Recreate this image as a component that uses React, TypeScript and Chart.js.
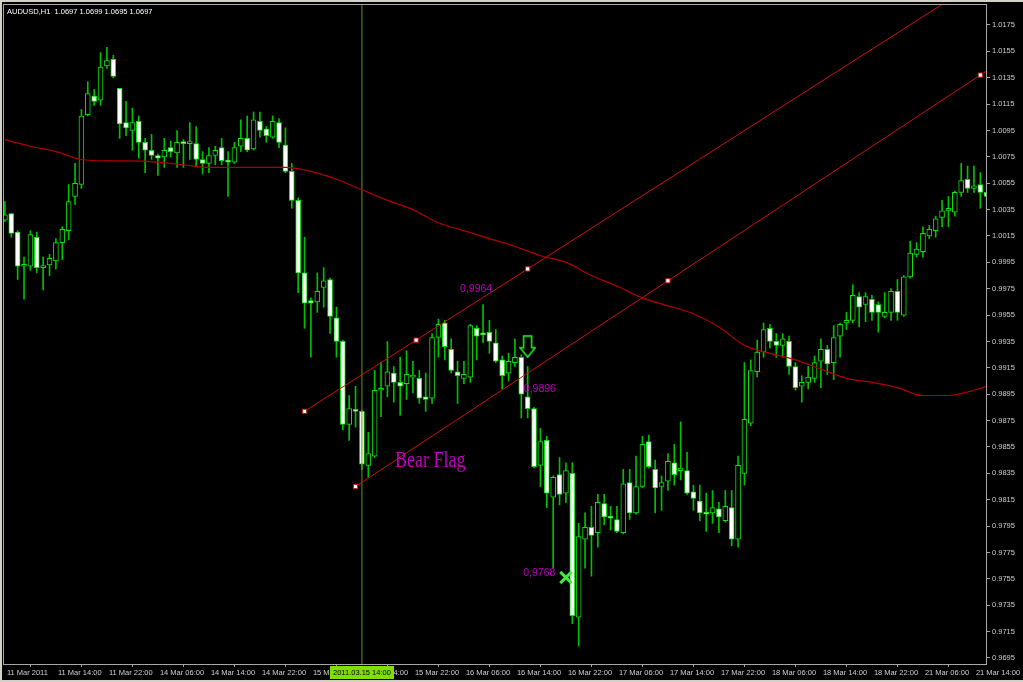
import React, { useEffect, useRef } from 'react';
import { Chart, registerables } from 'chart.js';

Chart.register(...registerables);

// ---------------- data ----------------
const TITLE_TEXT = 'AUDUSD,H1  1.0697 1.0699 1.0695 1.0697';

const X_LABELS = [
  '11 Mar 2011', '11 Mar 14:00', '11 Mar 22:00', '14 Mar 06:00', '14 Mar 14:00',
  '14 Mar 22:00', '15 Mar 06:00', '15 Mar 14:00', '15 Mar 22:00', '16 Mar 06:00',
  '16 Mar 14:00', '16 Mar 22:00', '17 Mar 06:00', '17 Mar 14:00', '17 Mar 22:00',
  '18 Mar 06:00', '18 Mar 14:00', '18 Mar 22:00', '21 Mar 06:00', '21 Mar 14:00',
];
const BARS_PER_LABEL = 8;

const Y_TICKS = [
  1.0175, 1.0155, 1.0135, 1.0115, 1.0095, 1.0075, 1.0055, 1.0035, 1.0015,
  0.9995, 0.9975, 0.9955, 0.9935, 0.9915, 0.9895, 0.9875, 0.9855, 0.9835,
  0.9815, 0.9795, 0.9775, 0.9755, 0.9735, 0.9715, 0.9695,
];
const Y_MIN = 0.96904;
const Y_MAX = 1.01909;
const X_MIN = -0.3;
const X_MAX = 154.05;

const OPEN = [
  1.0027, 1.0032, 1.0018, 0.9992, 0.9992, 1.0014, 0.9991, 0.9993, 0.9996, 1.0010,
  1.0019, 1.0045, 1.0054, 1.0107, 1.0121, 1.0118, 1.0144, 1.0149, 1.0127, 1.0101,
  1.0095, 1.0102, 1.0086, 1.0080, 1.0076, 1.0075, 1.0082, 1.0078, 1.0086, 1.0085,
  1.0085, 1.0073, 1.0070, 1.0076, 1.0082, 1.0072, 1.0071, 1.0083, 1.0089, 1.0081,
  1.0102, 1.0096, 1.0090, 1.0101, 1.0084, 1.0064, 1.0042, 0.9987, 0.9966, 0.9965,
  0.9976, 0.9982, 0.9953, 0.9935, 0.9872, 0.9883, 0.9882, 0.9841, 0.9848, 0.9898,
  0.9901, 0.9911, 0.9904, 0.9903, 0.9908, 0.9907, 0.9893, 0.9892, 0.9938, 0.9949,
  0.9929, 0.9912, 0.9907, 0.9908, 0.9945, 0.9941, 0.9942, 0.9934, 0.9921, 0.9911,
  0.9919, 0.9923, 0.9893, 0.9884, 0.9841, 0.9860, 0.9817, 0.9834, 0.9820, 0.9835,
  0.9726, 0.9785, 0.9794, 0.9790, 0.9812, 0.9802, 0.9800, 0.9790, 0.9828, 0.9805,
  0.9825, 0.9859, 0.9838, 0.9825, 0.9829, 0.9843, 0.9837, 0.9837, 0.9821, 0.9814,
  0.9805, 0.9805, 0.9808, 0.9799, 0.9809, 0.9785, 0.9835, 0.9873, 0.9912, 0.9927,
  0.9945, 0.9935, 0.9932, 0.9935, 0.9916, 0.9901, 0.9904, 0.9907, 0.9920, 0.9929,
  0.9919, 0.9939, 0.9949, 0.9951, 0.9969, 0.9963, 0.9967, 0.9963, 0.9954, 0.9957,
  0.9973, 0.9955, 0.9984, 1.0001, 1.0003, 1.0015, 1.0019, 1.0029, 1.0034, 1.0033,
  1.0048, 1.0058, 1.0051, 1.0054, 1.0048,
];
const HIGH = [
  1.0041, 1.0032, 1.0019, 0.9999, 1.0019, 1.0018, 0.9999, 1.0001, 1.0013, 1.0022,
  1.0054, 1.0070, 1.0111, 1.0132, 1.0126, 1.0154, 1.0158, 1.0152, 1.0127, 1.0117,
  1.0112, 1.0106, 1.0089, 1.0092, 1.0077, 1.0089, 1.0087, 1.0095, 1.0088, 1.0101,
  1.0098, 1.0079, 1.0082, 1.0083, 1.0089, 1.0079, 1.0086, 1.0103, 1.0106, 1.0109,
  1.0109, 1.0098, 1.0106, 1.0104, 1.0097, 1.0070, 1.0044, 1.0014, 0.9968, 0.9987,
  0.9991, 0.9983, 0.9961, 0.9936, 0.9894, 0.9901, 0.9883, 0.9866, 0.9913, 0.9919,
  0.9935, 0.9916, 0.9923, 0.9928, 0.9920, 0.9913, 0.9911, 0.9941, 0.9952, 0.9951,
  0.9937, 0.9920, 0.9920, 0.9948, 0.9947, 0.9963, 0.9951, 0.9944, 0.9924, 0.9926,
  0.9937, 0.9925, 0.9916, 0.9885, 0.9869, 0.9863, 0.9833, 0.9847, 0.9843, 0.9843,
  0.9797, 0.9805, 0.9810, 0.9819, 0.9819, 0.9810, 0.9810, 0.9838, 0.9838, 0.9848,
  0.9863, 0.9864, 0.9845, 0.9833, 0.9850, 0.9857, 0.9874, 0.9851, 0.9826, 0.9826,
  0.9820, 0.9822, 0.9813, 0.9822, 0.9822, 0.9848, 0.9919, 0.9921, 0.9936, 0.9949,
  0.9948, 0.9941, 0.9941, 0.9939, 0.9919, 0.9909, 0.9916, 0.9924, 0.9937, 0.9932,
  0.9947, 0.9949, 0.9957, 0.9978, 0.9972, 0.9972, 0.9970, 0.9965, 0.9972, 0.9975,
  0.9982, 0.9985, 1.0011, 1.0010, 1.0022, 1.0023, 1.0030, 1.0042, 1.0045, 1.0049,
  1.0070, 1.0068, 1.0068, 1.0063, 1.0058,
];
const LOW = [
  1.0026, 1.0014, 0.9982, 0.9967, 0.9989, 0.9987, 0.9974, 0.9985, 0.9990, 0.9997,
  1.0012, 1.0039, 1.0051, 1.0106, 1.0114, 1.0114, 1.0142, 1.0135, 1.0089, 1.0091,
  1.0080, 1.0074, 1.0063, 1.0073, 1.0061, 1.0067, 1.0075, 1.0067, 1.0067, 1.0073,
  1.0068, 1.0062, 1.0063, 1.0069, 1.0069, 1.0045, 1.0070, 1.0079, 1.0079, 1.0080,
  1.0090, 1.0086, 1.0089, 1.0082, 1.0063, 1.0036, 0.9972, 0.9945, 0.9923, 0.9957,
  0.9961, 0.9941, 0.9923, 0.9868, 0.9860, 0.9870, 0.9838, 0.9832, 0.9847, 0.9878,
  0.9893, 0.9889, 0.9879, 0.9891, 0.9896, 0.9888, 0.9882, 0.9888, 0.9923, 0.9921,
  0.9911, 0.9888, 0.9903, 0.9904, 0.9921, 0.9934, 0.9926, 0.9919, 0.9899, 0.9905,
  0.9916, 0.9877, 0.9877, 0.9839, 0.9825, 0.9809, 0.9763, 0.9811, 0.9813, 0.9721,
  0.9704, 0.9763, 0.9757, 0.9779, 0.9796, 0.9792, 0.9790, 0.9789, 0.9800, 0.9804,
  0.9824, 0.9839, 0.9805, 0.9807, 0.9822, 0.9826, 0.9830, 0.9819, 0.9807, 0.9799,
  0.9791, 0.9797, 0.9790, 0.9798, 0.9780, 0.9779, 0.9826, 0.9871, 0.9908, 0.9923,
  0.9930, 0.9923, 0.9923, 0.9910, 0.9898, 0.9889, 0.9899, 0.9904, 0.9900, 0.9910,
  0.9906, 0.9923, 0.9944, 0.9949, 0.9946, 0.9950, 0.9951, 0.9942, 0.9953, 0.9951,
  0.9951, 0.9954, 0.9983, 0.9999, 0.9999, 1.0013, 1.0014, 1.0022, 1.0022, 1.0030,
  1.0045, 1.0048, 1.0048, 1.0036, 1.0033,
];
const CLOSE = [
  1.0031, 1.0017, 0.9992, 0.9993, 1.0016, 0.9991, 0.9992, 0.9998, 1.0010, 1.0020,
  1.0041, 1.0055, 1.0106, 1.0123, 1.0117, 1.0143, 1.0148, 1.0136, 1.0100, 1.0097,
  1.0101, 1.0086, 1.0080, 1.0076, 1.0074, 1.0080, 1.0079, 1.0086, 1.0085, 1.0086,
  1.0073, 1.0070, 1.0076, 1.0080, 1.0072, 1.0071, 1.0082, 1.0089, 1.0080, 1.0103,
  1.0095, 1.0091, 1.0102, 1.0086, 1.0064, 1.0042, 0.9987, 0.9964, 0.9964, 0.9973,
  0.9981, 0.9954, 0.9935, 0.9872, 0.9884, 0.9882, 0.9842, 0.9850, 0.9898, 0.9899,
  0.9912, 0.9904, 0.9901, 0.9910, 0.9909, 0.9892, 0.9891, 0.9938, 0.9948, 0.9931,
  0.9913, 0.9909, 0.9910, 0.9947, 0.9939, 0.9940, 0.9935, 0.9920, 0.9909, 0.9920,
  0.9923, 0.9895, 0.9884, 0.9840, 0.9859, 0.9820, 0.9832, 0.9819, 0.9837, 0.9727,
  0.9787, 0.9794, 0.9788, 0.9813, 0.9802, 0.9801, 0.9791, 0.9827, 0.9805, 0.9825,
  0.9857, 0.9840, 0.9824, 0.9828, 0.9844, 0.9834, 0.9839, 0.9820, 0.9816, 0.9805,
  0.9804, 0.9809, 0.9802, 0.9810, 0.9785, 0.9841, 0.9876, 0.9913, 0.9927, 0.9944,
  0.9935, 0.9932, 0.9937, 0.9916, 0.9900, 0.9904, 0.9908, 0.9919, 0.9929, 0.9918,
  0.9938, 0.9948, 0.9951, 0.9970, 0.9961, 0.9969, 0.9957, 0.9957, 0.9957, 0.9973,
  0.9957, 0.9984, 1.0002, 1.0005, 1.0017, 1.0020, 1.0028, 1.0034, 1.0036, 1.0048,
  1.0057, 1.0051, 1.0053, 1.0048, 1.0045,
];

// moving average (read every 4 bars)
const MA_INDEX = [
  0, 4, 8, 12, 16, 20, 24, 28, 32, 36, 40, 44, 48, 52, 56, 60, 64, 68, 72, 76,
  80, 84, 88, 92, 96, 100, 104, 108, 112, 116, 120, 124, 128, 132, 136, 140, 144, 148, 152, 154,
];
const MA_VALUES = [
  1.0088, 1.0083, 1.0079, 1.0073, 1.0072, 1.0072, 1.0071, 1.0069, 1.0067, 1.0067,
  1.0067, 1.0067, 1.0064, 1.0058, 1.0050, 1.0042, 1.0035, 1.0025, 1.0019, 1.0013,
  1.0007, 1.0000, 0.9995, 0.9985, 0.9977, 0.9968, 0.9962, 0.9956, 0.9946, 0.9932,
  0.9926, 0.9921, 0.9914, 0.9907, 0.9904, 0.9900, 0.9894, 0.9894, 0.9898, 0.9901,
];

// trend lines (two anchors each, drawn as rays)
const UPPER_TREND_X = [47, 82];
const UPPER_TREND_Y = [0.9882, 0.999];
const LOWER_TREND_X = [55, 153];
const LOWER_TREND_Y = [0.9825, 1.0137];

const MARKER_LINE_INDEX = 56;
const MARKER_LINE_LABEL = '2011.03.15 14:00';

const ARROW_X = 82;
const ARROW_Y = 0.9931;
const CROSS_X = 88;
const CROSS_Y = 0.9756;

const NOTE_TEXTS = ['0,9964', '0,9896', '0,9768'];
const NOTE_X = [71.4, 81.4, 81.3];
const NOTE_Y = [0.9975, 0.9899, 0.9759];
const FLAG_TEXT = 'Bear Flag';
const FLAG_X = 61.2;
const FLAG_Y = 0.9844;

// ---------------- styles ----------------
const GREEN_BORDER = '#10e010';
const GREEN_WICK = '#00c000';
const MA_RED = '#b00000';
const TREND_RED = '#d01010';
const VLINE_COLOR = '#5f9800';
const AXIS_TEXT = '#d0d0d0';
const NOTE_COLOR = '#c000c0';
const FONT = 'Liberation Sans';

function makeArrow(): HTMLCanvasElement {
  const c = document.createElement('canvas');
  c.width = 17;
  c.height = 23;
  const g = c.getContext('2d')!;
  g.strokeStyle = '#20f020';
  g.lineWidth = 1.6;
  g.beginPath();
  g.moveTo(4.5, 1);
  g.lineTo(12.5, 1);
  g.lineTo(12.5, 12.5);
  g.lineTo(16, 12.5);
  g.lineTo(8.5, 22);
  g.lineTo(1, 12.5);
  g.lineTo(4.5, 12.5);
  g.closePath();
  g.stroke();
  return c;
}

export default function App() {
  const ref = useRef<HTMLCanvasElement>(null);

  useEffect(() => {
    const canvas = ref.current;
    if (!canvas) return;

    const bull: any[] = [];
    const bear: any[] = [];
    const wicks: any[] = [];
    OPEN.forEach((o, i) => {
      const c = CLOSE[i];
      wicks.push({ x: i, y: [LOW[i], HIGH[i]] });
      (c >= o ? bull : bear).push({ x: i, y: [o, c] });
    });

    const ray = (xs: number[], ys: number[]) => {
      const slope = (ys[1] - ys[0]) / (xs[1] - xs[0]);
      const xm = (xs[0] + xs[1]) / 2;
      const xe = X_MAX + 12;
      return [
        { x: xs[0], y: ys[0] },
        { x: xm, y: ys[0] + slope * (xm - xs[0]) },
        { x: xs[1], y: ys[1] },
        { x: xe, y: ys[0] + slope * (xe - xs[0]) },
      ];
    };

    const maData = MA_INDEX.map((x, k) => ({ x, y: MA_VALUES[k] }));
    const arrowImg = makeArrow();

    const decor = {
      id: 'decor',
      beforeDraw(chart: any) {
        const { ctx, width, height } = chart;
        ctx.save();
        ctx.fillStyle = '#000';
        ctx.fillRect(0, 0, width, height);
        ctx.fillStyle = '#d4d0c8';
        ctx.fillRect(0, 0, width, 2);
        ctx.fillRect(0, 0, 2, height);
        ctx.fillRect(0, height - 2, width, 2);
        ctx.restore();
      },
      afterDatasetsDraw(chart: any) {
        const { ctx, chartArea, scales } = chart;
        const xs = scales.x;
        const ys = scales.y;
        ctx.save();
        ctx.beginPath();
        ctx.rect(chartArea.left, chartArea.top, chartArea.right - chartArea.left, chartArea.bottom - chartArea.top);
        ctx.clip();
        ctx.fillStyle = NOTE_COLOR;
        ctx.textBaseline = 'middle';
        ctx.textAlign = 'left';
        ctx.font = `10.5px "${FONT}"`;
        NOTE_TEXTS.forEach((t, k) => {
          ctx.fillText(t, xs.getPixelForValue(NOTE_X[k]), ys.getPixelForValue(NOTE_Y[k]));
        });
        ctx.translate(xs.getPixelForValue(FLAG_X), ys.getPixelForValue(FLAG_Y));
        ctx.scale(1, 1.25);
        ctx.font = '18px "Liberation Serif"';
        ctx.fillText(FLAG_TEXT, 0, 0);
        ctx.restore();
      },
      afterDraw(chart: any) {
        const { ctx, chartArea, scales } = chart;
        ctx.save();
        ctx.strokeStyle = '#a8a8a8';
        ctx.lineWidth = 1;
        ctx.strokeRect(chartArea.left + 0.5, chartArea.top + 0.5, chartArea.right - chartArea.left - 1, chartArea.bottom - chartArea.top);
        // title
        ctx.fillStyle = '#ffffff';
        ctx.font = `7.5px "${FONT}"`;
        ctx.textBaseline = 'middle';
        ctx.textAlign = 'left';
        ctx.fillText(TITLE_TEXT, chartArea.left + 4, chartArea.top + 8);
        // marker line label
        const px = scales.x.getPixelForValue(MARKER_LINE_INDEX);
        const w = ctx.measureText(MARKER_LINE_LABEL).width + 6;
        const top = chartArea.bottom + 2;
        ctx.fillStyle = '#7fe000';
        ctx.fillRect(Math.round(px - w / 2), top, Math.round(w), 13);
        ctx.fillStyle = '#000';
        ctx.textAlign = 'center';
        ctx.fillText(MARKER_LINE_LABEL, px, top + 7);
        ctx.restore();
      },
    };

    const chart = new Chart(canvas, {
      type: 'bar',
      data: {
        datasets: [
          {
            type: 'line',
            label: 'arrow',
            data: [{ x: ARROW_X, y: ARROW_Y }],
            showLine: false,
            pointStyle: arrowImg as any,
            order: 0,
          } as any,
          {
            type: 'line',
            label: 'cross',
            data: [{ x: CROSS_X, y: CROSS_Y }],
            showLine: false,
            pointStyle: 'crossRot',
            pointRadius: 8,
            pointBorderWidth: 3,
            pointBorderColor: '#40e840',
            order: 0,
          } as any,
          {
            type: 'line',
            label: 'upper',
            data: ray(UPPER_TREND_X, UPPER_TREND_Y),
            borderColor: TREND_RED,
            borderWidth: 1,
            pointStyle: 'rect',
            pointRadius: [3, 3, 3, 0],
            pointBackgroundColor: '#ffffff',
            pointBorderColor: TREND_RED,
            pointBorderWidth: 1,
            order: 1,
          } as any,
          {
            type: 'line',
            label: 'lower',
            data: ray(LOWER_TREND_X, LOWER_TREND_Y),
            borderColor: TREND_RED,
            borderWidth: 1,
            pointStyle: 'rect',
            pointRadius: [3, 3, 3, 0],
            pointBackgroundColor: '#ffffff',
            pointBorderColor: TREND_RED,
            pointBorderWidth: 1,
            order: 1,
          } as any,
          {
            type: 'line',
            label: 'ma',
            data: maData,
            borderColor: MA_RED,
            borderWidth: 1.2,
            pointRadius: 0,
            cubicInterpolationMode: 'monotone',
            order: 1,
          } as any,
          {
            type: 'line',
            label: 'vline',
            data: [
              { x: MARKER_LINE_INDEX, y: Y_MIN },
              { x: MARKER_LINE_INDEX, y: Y_MAX },
            ],
            borderColor: VLINE_COLOR,
            borderWidth: 1,
            pointRadius: 0,
            order: 1,
          } as any,
          {
            label: 'bull',
            data: bull,
            backgroundColor: '#000000',
            borderColor: GREEN_BORDER,
            borderWidth: 1,
            borderSkipped: false,
            grouped: false,
            maxBarThickness: 5,
            barPercentage: 1,
            categoryPercentage: 1,
            minBarLength: 2,
            order: 2,
          } as any,
          {
            label: 'bear',
            data: bear,
            backgroundColor: '#ffffff',
            borderColor: GREEN_BORDER,
            borderWidth: 1,
            borderSkipped: false,
            grouped: false,
            maxBarThickness: 5,
            barPercentage: 1,
            categoryPercentage: 1,
            minBarLength: 2,
            order: 2,
          } as any,
          {
            label: 'wick',
            data: wicks,
            backgroundColor: GREEN_WICK,
            borderWidth: 0,
            grouped: false,
            maxBarThickness: 1,
            barPercentage: 1,
            categoryPercentage: 1,
            order: 3,
          } as any,
        ],
      },
      options: {
        responsive: false,
        animation: false,
        devicePixelRatio: 1,
        events: [],
        layout: { autoPadding: false, padding: { left: 3, top: 4, right: 0, bottom: 0 } },
        plugins: { legend: { display: false }, tooltip: { enabled: false }, title: { display: false } },
        scales: {
          x: {
            type: 'linear',
            position: 'bottom',
            min: X_MIN,
            max: X_MAX,
            offset: false,
            grid: { display: true, drawOnChartArea: false, drawTicks: true, tickLength: 3, color: '#a8a8a8' },
            border: { display: false },
            ticks: {
              autoSkip: false,
              maxRotation: 0,
              minRotation: 0,
              align: 'start',
              labelOffset: 2,
              padding: 1,
              color: AXIS_TEXT,
              font: { family: FONT, size: 7.5 },
              callback: (v: any) => X_LABELS[Math.round(Number(v) / BARS_PER_LABEL)] ?? '',
            },
            afterBuildTicks: (scale: any) => {
              scale.ticks = X_LABELS.map((_, k) => ({ value: k * BARS_PER_LABEL }));
            },
            afterFit: (scale: any) => {
              scale.height = 18;
              scale.paddingLeft = 0;
              scale.paddingRight = 0;
            },
          },
          y: {
            type: 'linear',
            position: 'right',
            min: Y_MIN,
            max: Y_MAX,
            beginAtZero: false,
            grid: { display: true, drawOnChartArea: false, drawTicks: true, tickLength: 3, color: '#a8a8a8' },
            border: { display: false },
            ticks: {
              padding: 2,
              color: AXIS_TEXT,
              font: { family: FONT, size: 7.5 },
              callback: (v: any) => Number(v).toFixed(4),
            },
            afterBuildTicks: (scale: any) => {
              scale.ticks = Y_TICKS.map((v) => ({ value: v }));
            },
            afterFit: (scale: any) => {
              scale.width = 36;
              scale.paddingTop = 0;
              scale.paddingBottom = 0;
            },
          },
        },
      } as any,
      plugins: [decor],
    });

    return () => chart.destroy();
  }, []);

  return (
    <div style={{ position: 'fixed', left: 0, top: 0, width: 1023, height: 682, background: '#000' }}>
      <canvas ref={ref} width={1023} height={682} style={{ display: 'block', width: 1023, height: 682 }} />
    </div>
  );
}
